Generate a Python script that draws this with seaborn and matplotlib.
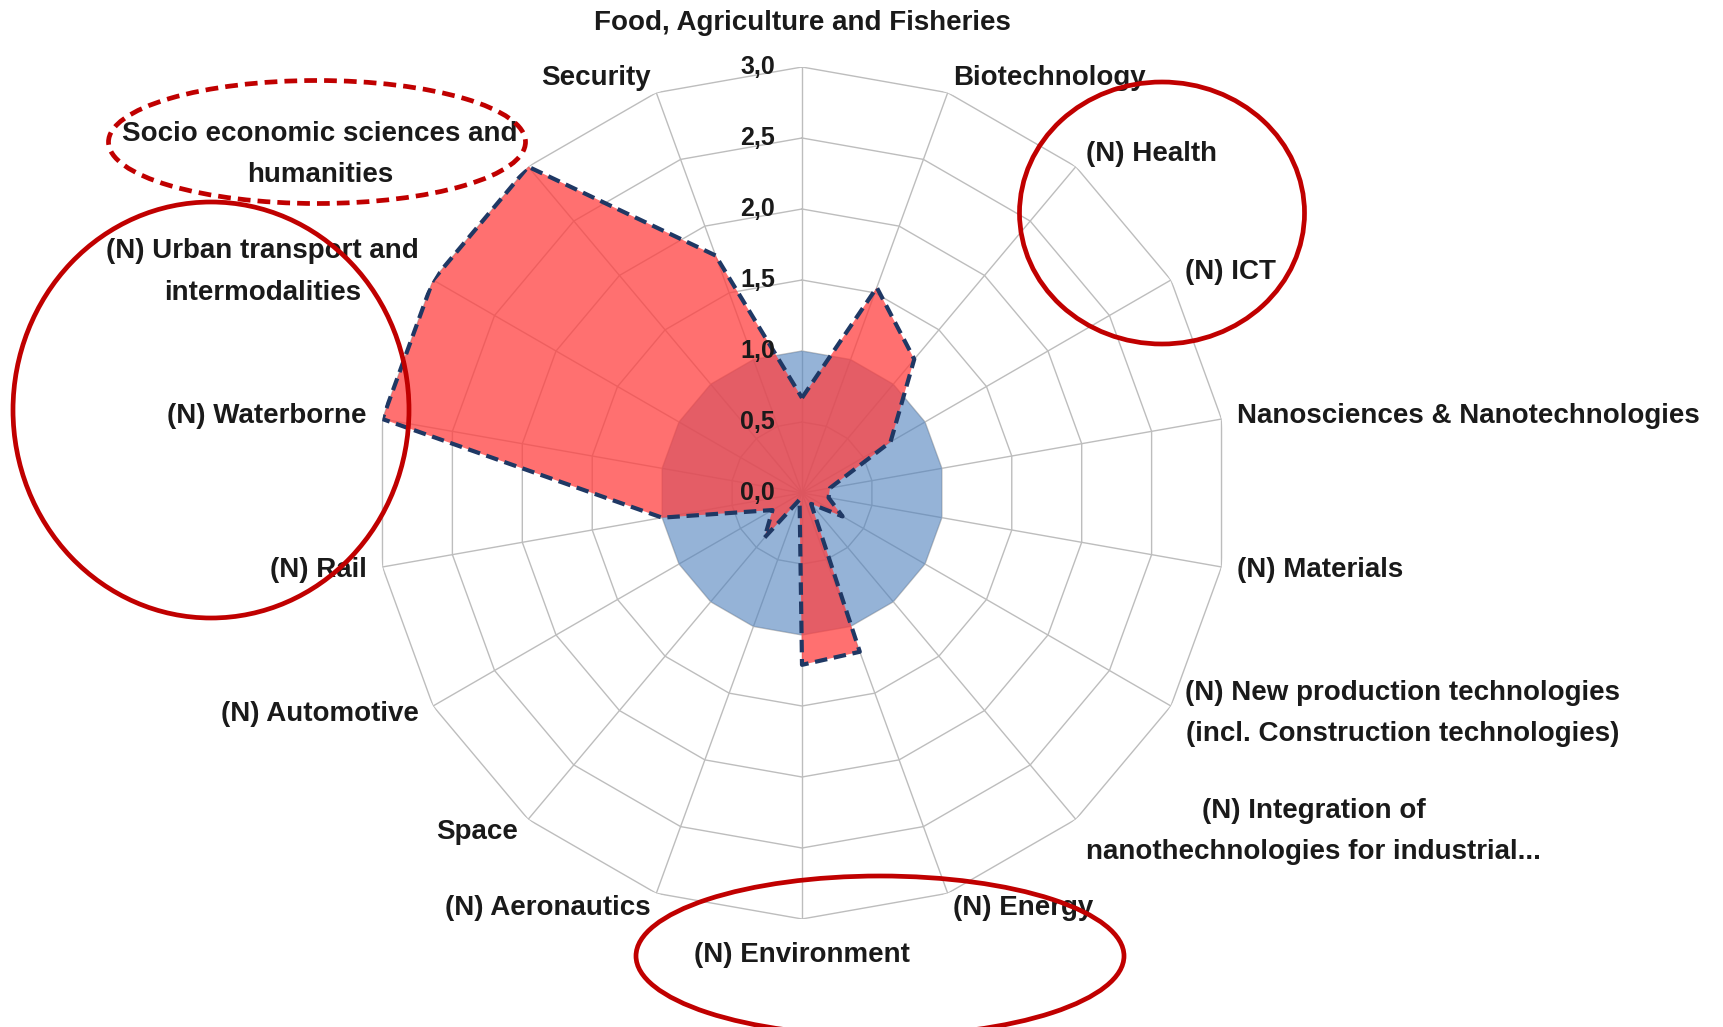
import numpy as np
import matplotlib
matplotlib.use("Agg")
import matplotlib.pyplot as plt
from matplotlib.patches import Ellipse
import seaborn as sns

sns.set_theme(style="white")
plt.rcParams["font.family"] = ["Liberation Sans", "DejaVu Sans"]

# ── Data ──────────────────────────────────────────────────────────────────────
categories = [
    "Food, Agriculture and Fisheries",
    "Biotechnology",
    "(N) Health",
    "(N) ICT",
    "Nanosciences & Nanotechnologies",
    "(N) Materials",
    "(N) New production technologies\n(incl. Construction technologies)",
    "(N) Integration of\nnanothechnologies for industrial...",
    "(N) Energy",
    "(N) Environment",
    "(N) Aeronautics",
    "Space",
    "(N) Automotive",
    "(N) Rail",
    "(N) Waterborne",
    "(N) Urban transport and\nintermodalities",
    "Socio economic sciences and\nhumanities",
    "Security",
]
red_values = [0.67, 1.54, 1.23, 0.72, 0.20, 0.19, 0.33, 0.10, 1.19,
              1.21, 0.05, 0.41, 0.24, 1.00, 3.00, 3.00, 3.00, 1.78]
blue_values = [1.0, 1.0, 1.0, 1.0, 1.0, 1.0, 1.0, 1.0, 1.0,
               1.0, 1.0, 1.0, 1.0, 1.0, 1.0, 1.0, 1.0, 1.0]
r_ticks = [0.0, 0.5, 1.0, 1.5, 2.0, 2.5, 3.0]
r_tick_labels = ["0,0", "0,5", "1,0", "1,5", "2,0", "2,5", "3,0"]

# ── Palette ───────────────────────────────────────────────────────────────────
C_BLUE = "#4F81BD"
C_RED = "#FF4040"
C_EDGE = "#1F3864"
C_GRID = "#BDBDBD"
C_MARK = "#C00000"
C_TEXT = "#1A1A1A"

W, H = 1724, 1027
cx, cy, R = 802, 493, 426

n = len(categories)
theta = np.linspace(0, 2 * np.pi, n, endpoint=False)
theta_c = np.append(theta, theta[0])
red_c = np.append(red_values, red_values[0])

fig = plt.figure(figsize=(W / 100, H / 100), dpi=100)
ax = fig.add_axes([(cx - R) / W, (H - cy - R) / H, 2 * R / W, 2 * R / H],
                  projection="polar")
ax.set_theta_zero_location("N")
ax.set_theta_direction(-1)
ax.grid(False)
ax.spines["polar"].set_visible(False)
ax.patch.set_alpha(0)

# polygon grid + spokes
for lvl in r_ticks[1:]:
    ax.plot(theta_c, [lvl] * (n + 1), color=C_GRID, lw=1.0, zorder=1)
for t in theta:
    ax.plot([t, t], [0, r_ticks[-1]], color=C_GRID, lw=1.0, zorder=1)

ax.fill(theta, blue_values, color=C_BLUE, alpha=0.6, lw=0, zorder=2)
ax.fill(theta, red_values, color=C_RED, alpha=0.75, lw=0, zorder=3)
sns.lineplot(x=theta_c, y=red_c, sort=False, estimator=None, ax=ax,
             color=C_EDGE, lw=3.0, linestyle=(0, (3.0, 1.6)), zorder=4)

ax.set_xticks([])
ax.set_yticks([])
ax.set_xlabel("")
ax.set_ylabel("")
ax.set_ylim(0, 3)

# category labels
for t, lab in zip(theta, categories):
    s, c = np.sin(t), np.cos(t)
    if abs(s) < 1e-6:
        ha = "center"
        off = (0, 44) if c > 0 else (0, -36)
    else:
        ha = "left" if s > 0 else "right"
        off = (16 * s, 16 * c)
    ax.annotate(lab, xy=(t, 3.0), xytext=off, textcoords="offset pixels",
                ha=ha, va="center", multialignment="center", linespacing=1.75,
                fontsize=20, fontweight="bold", color=C_TEXT,
                annotation_clip=False)

# radial tick labels
for lvl, lab in zip(r_ticks, r_tick_labels):
    ax.annotate(lab, xy=(0, lvl), xytext=(-27, 0), textcoords="offset pixels",
                ha="right", va="center", fontsize=18, fontweight="bold",
                color=C_TEXT, annotation_clip=False, zorder=6)

# red highlight ellipses (pixel positions on the figure)
marks = [
    (1162, 213, 285, 262, "-"),
    (317, 142, 417, 123, (0, (2.7, 1.5))),
    (211, 410, 396, 416, "-"),
    (880, 956, 488, 160, "-"),
]
for x, y, w, h, ls in marks:
    fig.add_artist(Ellipse((x / W, 1 - y / H), w / W, h / H,
                           transform=fig.transFigure, fill=False,
                           edgecolor=C_MARK, lw=3.4, linestyle=ls, zorder=10))

fig.savefig("out.png", dpi=100)
